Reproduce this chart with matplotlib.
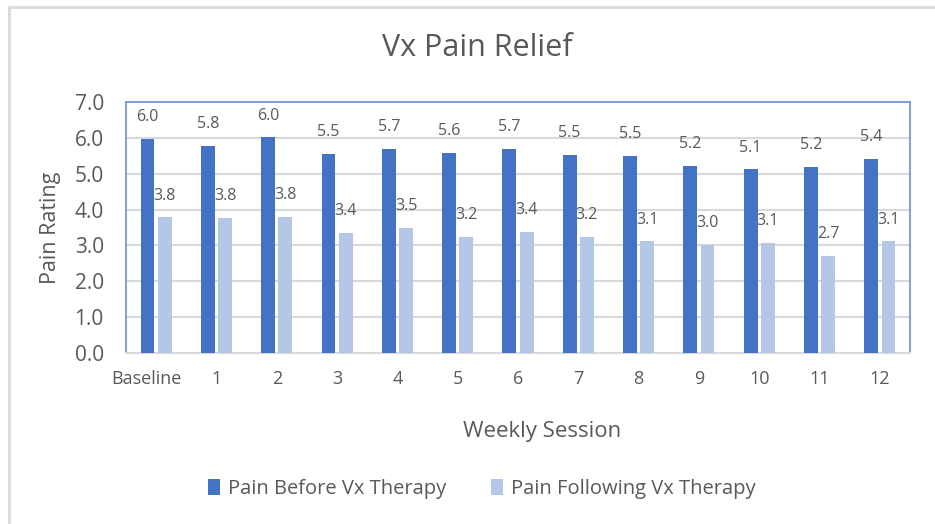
import numpy as np
import matplotlib.pyplot as plt
from matplotlib.patches import Rectangle
from matplotlib.transforms import ScaledTranslation

sessions = ["Baseline", "1", "2", "3", "4", "5", "6", "7", "8", "9", "10", "11", "12"]
pain_before = [5.98, 5.77, 6.01, 5.54, 5.70, 5.58, 5.70, 5.52, 5.50, 5.22, 5.12, 5.19, 5.40]
pain_after = [3.78, 3.76, 3.79, 3.36, 3.49, 3.24, 3.38, 3.24, 3.11, 3.01, 3.07, 2.70, 3.11]

DARK = "#4472C4"
LIGHT = "#B4C7E7"
TEXT = "#595959"

plt.rcParams["font.family"] = ["Open Sans", "DejaVu Sans"]

fig = plt.figure(figsize=(9.35, 5.24), dpi=100, facecolor="white")

# outer chart border (only top/left visible in the crop)
fig.patches.append(Rectangle((9 / 935, -0.1), 1.2, 1 - 7 / 524 + 0.1,
                             transform=fig.transFigure, fill=False,
                             edgecolor="#d9d9d9", linewidth=2))

ax = fig.add_axes([126 / 935, 1 - 353 / 524, (910 - 126) / 935, (353 - 102) / 524])

x = np.arange(len(sessions))
w = 0.23
off = 0.143

b1 = ax.bar(x - off, pain_before, w, color=DARK, zorder=3, label="Pain Before Vx Therapy")
b2 = ax.bar(x + off, pain_after, w, color=LIGHT, zorder=3, label="Pain Following Vx Therapy")

# value labels sit behind the bars, like the original
for bars in (b1, b2):
    for rect in bars:
        h = rect.get_height()
        ax.annotate(f"{h:.1f}", (rect.get_x() + rect.get_width() / 2, h),
                    xytext=(0, 10), textcoords="offset points",
                    ha="center", va="bottom", fontsize=11.5, color=TEXT, zorder=2)

ax.set_xlim(-0.5, len(sessions) - 0.5)
ax.set_ylim(0, 7)
ax.set_yticks(np.arange(0, 8, 1))
ax.set_yticklabels([f"{v:.1f}" for v in np.arange(0, 8, 1)])
ax.set_xticks(x)
ax.set_xticklabels(sessions)
ax.tick_params(axis="both", length=0, colors=TEXT)
ax.tick_params(axis="y", labelsize=15, pad=16)
ax.tick_params(axis="x", labelsize=13, pad=12)

# "Baseline" sits a little left of its category
first = ax.get_xticklabels()[0]
first.set_transform(first.get_transform() + ScaledTranslation(-0.10, 0, fig.dpi_scale_trans))

ax.grid(axis="y", color="#d9d9d9", linewidth=1.5, zorder=1)
ax.set_axisbelow(True)

for side in ("top", "left", "right"):
    ax.spines[side].set_color("#6A8FD8")
    ax.spines[side].set_linewidth(1.2)
ax.spines["bottom"].set_color("#d9d9d9")
ax.spines["bottom"].set_linewidth(1.5)

ax.set_ylabel("Pain Rating", fontsize=15.5, color=TEXT, labelpad=10)
ax.set_xlabel("Weekly Session", fontsize=16, color=TEXT, labelpad=24,
              x=(542 - 126) / 784)

fig.text(477 / 935, 1 - 48 / 524, "Vx Pain Relief", ha="center", va="center",
         fontsize=22, color=TEXT)

fig.legend(handles=[b1, b2], loc="center", bbox_to_anchor=(482 / 935, 1 - 489 / 524),
           ncol=2, frameon=False, fontsize=14.5, labelcolor=TEXT,
           handlelength=0.6, handleheight=0.8, handletextpad=0.4, columnspacing=2.2)

fig.savefig("out.png", dpi=100, facecolor="white")
